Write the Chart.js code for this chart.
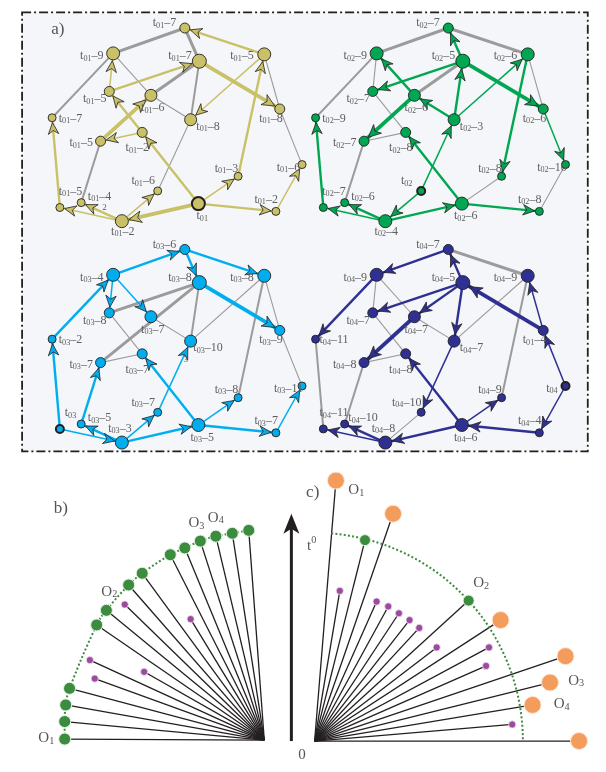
<!DOCTYPE html>
<html>
<head>
<meta charset="utf-8">
<script src="https://cdn.jsdelivr.net/npm/chart.js@4.4.0/dist/chart.umd.min.js"></script>
<style>
  html, body { margin: 0; padding: 0; background: #fff; }
  canvas { display: block; }
</style>
</head>
<body>
<canvas id="fig" width="606" height="772"></canvas>
<script>
// ---- a) the four graphs share one node layout ----
var nodeIds = "ABCDEFGHIJKLMNOPQRS";
var nodeX = [181, 107, 196, 263, 103, 146, 279, 44, 187, 137, 94, 302, 236, 153, 195, 52, 74, 275, 116];
var nodeY = [19, 45, 53, 46, 84, 88, 102, 111, 113, 126, 135, 159, 171, 186, 199, 203, 198, 207, 217];
var nodeR = [5, 6.5, 7, 6.5, 5, 6, 5, 4, 6, 5, 5, 4, 4, 4, 6.5, 4, 4, 4, 6.5];
var labelDX = [-21, -22, -20, -23, -15, 2, -9, 19, 18, -5, -20, -14, -12, -15, 4, 11, 19, -10, 1];
var labelDY = [-5, 3, -5, 2, 8, 13, 10, 1, 7, 16, 2, 3, -8, -10, 13, -16, -6, -12, 11];
var graphDX = [0, 272, 0, 272];
var graphDY = [0, 0, 227, 227];
var graphColor = ["#c9c168", "#00a651", "#00aeef", "#2e3192"];
var graphRoot = ["O", "N", "P", "L"];
var graphLabels = [
  ["t01-7","t01-9","t01-7","t01-5","t01-5","t01-6","t01-8","t01-7","t01-8","t01-2","t01-5","t01-6","t01-3","t01-6","t01","t01-5","t01-4","t01-2","t01-2"],
  ["t02-7","t02-9","t02-5","t02-6","t02-7","t02-6","t02-6","t02-9","t02-3","t02-8","t02-7","t02-10","t02-8","t02","t02-6","t02-7","t02-6","t02-8","t02-4"],
  ["t03-6","t03-4","t03-8","t03-8","t03-8","t03-7","t03-9","t03-2","t03-10","t03-7","t03-7","t03-11","t03-8","t03-7","t03-5","t03","t03-5","t03-7","t03-3"],
  ["t04-7","t04-9","t04-5","t04-9","t04-7","t04-7","t01-4","t04-11","t04-7","t04-8","t04-8","t04","t04-9","t04-10","t04-6","t04-11","t04-10","t04-4","t04-8"]
];
// undirected grey links and directed coloured links, "from-to:weight"
var grayEdges = [
  "B-A:3 A-C:3 B-H:2 B-F:1 F-I:1 F-C:3 C-I:2 I-N:1 K-Q:2 D-G:1 G-L:1",
  "B-A:3 A-D:3 B-H:2 B-E:1 E-J:1 C-F:3 K-J:1 K-Q:2 D-G:1 L-R:1 M-O:1",
  "E-C:3 K-C:3 C-I:2 I-D:1 F-I:1 E-J:1 K-J:1 D-M:2 D-G:1 G-L:1",
  "A-D:3 B-E:1 B-F:1 F-I:1 E-J:1 K-J:1 K-Q:2 D-I:1 D-M:2 H-P:2 N-S:1"
];
var arrowEdges = [
  "D>A:2 E>B:1 E>C:2 C>G:3 D>I:1 K>F:3 J>K:1 J>E:2 O>J:2 M>D:2 O>M:1 O>R:2 O>S:3 R>L:1 S>N:1 S>P:1 S>Q:2 P>H:2",
  "C>A:2 F>B:2 C>E:2 F>K:3 I>F:2 I>C:2 I>D:1 C>G:3 D>M:2 G>L:1 N>I:1 N>S:1 O>J:2 S>O:2 O>R:2 S>P:1 S>Q:2 P>H:2",
  "B>A:2 A>C:2 A>D:2 B>E:1 B>F:1 C>G:3 H>B:2 P>H:2 Q>K:2 N>I:1 O>J:2 S>N:1 S>O:2 O>M:1 O>R:2 R>L:1 P>S:1 S>Q:2",
  "C>A:2 A>B:2 B>H:2 C>E:2 C>F:2 F>K:3 C>I:2 G>C:3 G>D:1 L>G:1 L>R:1 I>N:1 O>J:2 O>M:1 R>O:2 O>S:2 S>P:1 S>Q:2"
];
var strayText = ["2", "3"];
var strayX = [98, 182];
var strayY = [203, 359];

// ---- b) ----
var bOrigin = [263, 749];
var bGreenX = [57, 57, 58, 62, 90, 100, 123, 137, 166, 181, 197, 213, 230, 247];
var bGreenY = [748, 730, 713, 696, 631, 616, 590, 578, 559, 552, 545, 540, 537, 534];
var bPurpleX = [119, 187, 83, 139, 88];
var bPurpleY = [610, 625, 667, 679, 686];

// ---- c) ----
var cOrigin = [315, 750];
var cRadius = 215;
var cGreenX = [367, 474];
var cGreenY = [544, 606];
var cOrangeX = [337, 396, 507, 574, 558, 540, 588];
var cOrangeY = [483, 517, 626, 663, 690, 713, 750];
var cPurpleX = [341, 379, 391, 402, 413, 423, 441, 495, 492, 519];
var cPurpleY = [596, 607, 612, 619, 626, 634, 654, 654, 673, 733];

// time axis between b) and c)
var axisX = 291, axisBottom = 750, axisTop = 517;

// free texts
var noteText = ["a)", "b)", "c)", "O1", "O2", "O3", "O4", "O1", "O2", "O3", "O4", "t^0", "0"];
var noteX = [50, 53, 313, 38, 103, 193, 213, 358, 487, 585, 570, 312, 302];
var noteY = [21, 512, 495, 747, 597, 527, 521, 493, 588, 688, 712, 550, 764];

var FONT = '"Liberation Serif","DejaVu Serif",serif';
var GRAY = "#9b9b9b";
var INK = "#231f20";
var grayW = [0, 1.1, 2, 3];
var colW = [0, 1.5, 2.4, 3.8];

function P(x, y) { return { x: x, y: y }; }

var datasets = [];
function addSeg(a, b, color, w, order) {
  datasets.push({
    data: [a, b], showLine: true, borderColor: color, borderWidth: w,
    borderCapStyle: "butt", pointRadius: 0, pointHoverRadius: 0,
    order: order == null ? 5 : order
  });
}

var arrows = [];
var nodeLabels = [];
for (var g = 0; g < 4; g++) {
  var pos = function (id) {
    var i = nodeIds.indexOf(id);
    return P(nodeX[i] + graphDX[g], nodeY[i] + graphDY[g]);
  };
  grayEdges[g].split(" ").forEach(function (e) {
    addSeg(pos(e[0]), pos(e[2]), GRAY, grayW[+e[4]]);
  });
  arrowEdges[g].split(" ").forEach(function (e) {
    addSeg(pos(e[0]), pos(e[2]), graphColor[g], colW[+e[4]], 4);
    arrows.push({ from: pos(e[0]), to: pos(e[2]), r: nodeR[nodeIds.indexOf(e[2])], color: graphColor[g], w: +e[4] });
  });
  var ids = nodeIds.split("");
  datasets.push({
    data: ids.map(pos), showLine: false, order: 0,
    pointRadius: nodeR.slice(), pointHoverRadius: nodeR.slice(),
    pointBackgroundColor: graphColor[g], pointBorderColor: INK,
    pointBorderWidth: ids.map(function (id) { return id === graphRoot[g] ? 2 : 0.9; })
  });
  ids.forEach(function (id, i) {
    var dx = labelDX[i], dy = labelDY[i];
    if (id === "S" && g >= 2) { dx = -2; dy = -14; }
    nodeLabels.push({ t: graphLabels[g][i], x: nodeX[i] + graphDX[g] + dx, y: nodeY[i] + graphDY[g] + dy });
  });
}
strayText.forEach(function (t, i) { nodeLabels.push({ t: t, x: strayX[i], y: strayY[i], s: 9 }); });

// b) rays, dotted arc and dots
var bO = P(bOrigin[0], bOrigin[1]);
bGreenX.forEach(function (x, i) { addSeg(bO, P(x, bGreenY[i]), INK, 1.3); });
bPurpleX.forEach(function (x, i) { addSeg(bO, P(x, bPurpleY[i]), INK, 1.3); });
datasets.push({
  data: bGreenX.map(function (x, i) { return P(x, bGreenY[i]); }),
  showLine: true, tension: 0.4, borderColor: "#3c8c3f", borderWidth: 2,
  borderDash: [2, 2.2], pointRadius: 0, order: 3
});
datasets.push({
  data: bGreenX.map(function (x, i) { return P(x, bGreenY[i]); }),
  showLine: false, pointRadius: 6, pointBackgroundColor: "#3c8c3f",
  pointBorderColor: "#e4efe4", pointBorderWidth: 1, order: 0
});
datasets.push({
  data: bPurpleX.map(function (x, i) { return P(x, bPurpleY[i]); }),
  showLine: false, pointRadius: 3.6, pointBackgroundColor: "#9b4a9d",
  pointBorderColor: "#f0e4f0", pointBorderWidth: 0.8, order: 0
});

// c) rays and dots
var cO = P(cOrigin[0], cOrigin[1]);
cGreenX.forEach(function (x, i) { addSeg(cO, P(x, cGreenY[i]), INK, 1.3); });
cOrangeX.forEach(function (x, i) { addSeg(cO, P(x, cOrangeY[i]), INK, 1.3); });
cPurpleX.forEach(function (x, i) { addSeg(cO, P(x, cPurpleY[i]), INK, 1.3); });
datasets.push({
  data: cGreenX.map(function (x, i) { return P(x, cGreenY[i]); }),
  showLine: false, pointRadius: 5.5, pointBackgroundColor: "#3c8c3f",
  pointBorderColor: "#e4efe4", pointBorderWidth: 1, order: 0, arcFirst: true
});
datasets.push({
  data: cOrangeX.map(function (x, i) { return P(x, cOrangeY[i]); }),
  showLine: false, pointRadius: 8.5, pointBackgroundColor: "#f39c5c",
  pointBorderColor: "#fbe6d6", pointBorderWidth: 1, order: 0
});
datasets.push({
  data: cPurpleX.map(function (x, i) { return P(x, cPurpleY[i]); }),
  showLine: false, pointRadius: 3.6, pointBackgroundColor: "#9b4a9d",
  pointBorderColor: "#f0e4f0", pointBorderWidth: 0.8, order: 0
});

function richText(ctx, str, x, y, size, color) {
  var parts;
  var m = /^([tO])(\d*)(.*)$/.exec(str);
  if (str.indexOf("^") > 0) {
    var sp = str.split("^");
    parts = [[sp[0], 1, 0], [sp[1], 0.68, -0.38]];
  } else if (m && m[2]) {
    parts = [[m[1], 1, 0], [m[2], 0.68, 0.2], [m[3].replace("-", "\u2013"), 1, 0]];
  } else {
    parts = [[str, 1, 0]];
  }
  var total = 0;
  parts.forEach(function (p) {
    ctx.font = (size * p[1]) + "px " + FONT;
    p.w = ctx.measureText(p[0]).width;
    total += p.w;
  });
  var cx = x - total / 2;
  ctx.fillStyle = color;
  ctx.textBaseline = "middle";
  ctx.textAlign = "left";
  parts.forEach(function (p) {
    ctx.font = (size * p[1]) + "px " + FONT;
    ctx.fillText(p[0], cx, y + p[2] * size);
    cx += p.w;
  });
}

var figurePlugin = {
  id: "figure",
  beforeDatasetsDraw: function (chart) {
    var ctx = chart.ctx, xs = chart.scales.x, ys = chart.scales.y;
    var x0 = xs.getPixelForValue(13), y0 = ys.getPixelForValue(3);
    var x1 = xs.getPixelForValue(597), y1 = ys.getPixelForValue(453);
    ctx.save();
    ctx.fillStyle = "#f4f6f9";
    ctx.fillRect(x0, y0, x1 - x0, y1 - y0);
    ctx.strokeStyle = INK;
    ctx.lineWidth = 1.8;
    ctx.setLineDash([9, 3, 2, 3]);
    ctx.strokeRect(x0, y0, x1 - x0, y1 - y0);
    ctx.restore();
  },
  beforeDatasetDraw: function (chart, args) {
    if (!chart.data.datasets[args.index].arcFirst) return;
    var ctx = chart.ctx, xs = chart.scales.x, ys = chart.scales.y;
    var cx = xs.getPixelForValue(cOrigin[0]), cy = ys.getPixelForValue(cOrigin[1]);
    var r = xs.getPixelForValue(cOrigin[0] + cRadius) - cx;
    ctx.save();
    ctx.strokeStyle = "#3c8c3f";
    ctx.lineWidth = 2;
    ctx.setLineDash([2, 2.2]);
    ctx.beginPath();
    ctx.arc(cx, cy, r, -Math.PI / 2 + 0.08, 0);
    ctx.stroke();
    ctx.restore();
  },
  afterDatasetsDraw: function (chart) {
    var ctx = chart.ctx, xs = chart.scales.x, ys = chart.scales.y;
    ctx.save();
    // arrowheads on directed links
    arrows.forEach(function (a) {
      var fx = xs.getPixelForValue(a.from.x), fy = ys.getPixelForValue(a.from.y);
      var tx = xs.getPixelForValue(a.to.x), ty = ys.getPixelForValue(a.to.y);
      var dx = tx - fx, dy = ty - fy, L = Math.sqrt(dx * dx + dy * dy);
      dx /= L; dy /= L;
      var nx = -dy, ny = dx;
      var len = a.w === 3 ? 12.5 : 11.5, hw = a.w === 3 ? 5.8 : 5.2;
      var px = tx - dx * (a.r + 0.8), py = ty - dy * (a.r + 0.8);
      ctx.beginPath();
      ctx.moveTo(px, py);
      ctx.lineTo(px - dx * len + nx * hw, py - dy * len + ny * hw);
      ctx.lineTo(px - dx * (len - 3.5), py - dy * (len - 3.5));
      ctx.lineTo(px - dx * len - nx * hw, py - dy * len - ny * hw);
      ctx.closePath();
      ctx.fillStyle = a.color;
      ctx.fill();
      ctx.strokeStyle = INK;
      ctx.lineWidth = 0.8;
      ctx.stroke();
    });
    // time axis arrow
    var ax = xs.getPixelForValue(axisX);
    var ab = ys.getPixelForValue(axisBottom), at = ys.getPixelForValue(axisTop);
    ctx.strokeStyle = INK;
    ctx.fillStyle = INK;
    ctx.lineWidth = 3;
    ctx.beginPath();
    ctx.moveTo(ax, ab);
    ctx.lineTo(ax, at + 14);
    ctx.stroke();
    ctx.beginPath();
    ctx.moveTo(ax, at);
    ctx.lineTo(ax + 8, at + 20);
    ctx.lineTo(ax, at + 15);
    ctx.lineTo(ax - 8, at + 20);
    ctx.closePath();
    ctx.fill();
    // texts
    nodeLabels.forEach(function (l) {
      richText(ctx, l.t, xs.getPixelForValue(l.x), ys.getPixelForValue(l.y), l.s || 12, "#5e5e5e");
    });
    noteText.forEach(function (t, i) {
      var size = i < 3 ? 17 : 15;
      richText(ctx, t, xs.getPixelForValue(noteX[i]), ys.getPixelForValue(noteY[i]), size, "#555");
    });
    ctx.restore();
  }
};

new Chart(document.getElementById("fig"), {
  type: "scatter",
  data: { datasets: datasets },
  options: {
    responsive: false,
    animation: false,
    events: [],
    layout: { padding: 0 },
    plugins: { legend: { display: false }, tooltip: { enabled: false } },
    scales: {
      x: { type: "linear", min: 0, max: 606, display: false },
      y: { type: "linear", min: 0, max: 772, reverse: true, display: false }
    }
  },
  plugins: [figurePlugin]
});
</script>
</body>
</html>
